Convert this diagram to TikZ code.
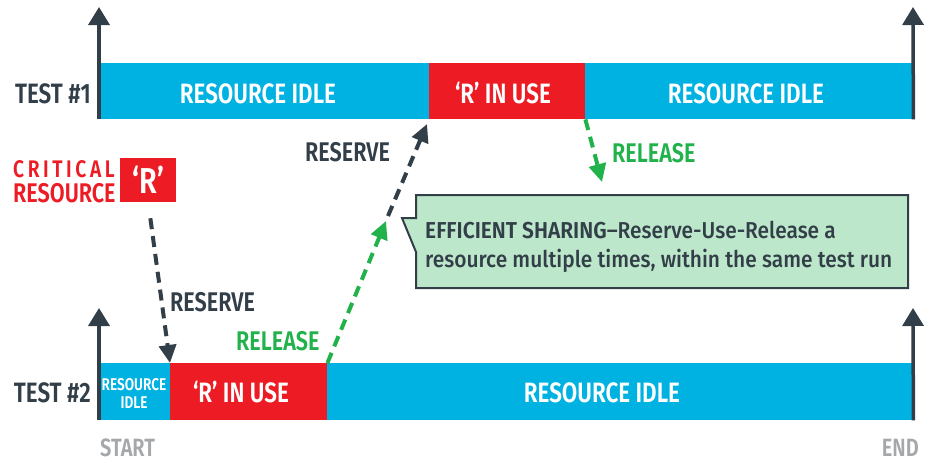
\documentclass[tikz,border=0pt]{standalone}
\usepackage{fontspec}
\setmainfont{Fira Sans}[FakeStretch=0.8, BoldFont={Fira Sans SemiBold}]
\newfontfamily\medf{Fira Sans Medium}[FakeStretch=0.91, BoldFont={Fira Sans SemiBold}]
\usetikzlibrary{arrows.meta}
\definecolor{barblue}{HTML}{00B2E2}
\definecolor{barred}{HTML}{ED1C24}
\definecolor{relgreen}{HTML}{22B24C}
\definecolor{darkc}{HTML}{323E48}
\definecolor{calfill}{HTML}{BDE7CA}
\definecolor{greyc}{HTML}{A5A8AB}
\begin{document}
\begin{tikzpicture}[x=1pt,y=-1pt,
  bar/.style={draw=none,inner sep=0pt,anchor=north west},
  bartxt/.style={text=white,font=\fontsize{28}{30}\selectfont\bfseries,inner sep=0pt,anchor=base},
  axisline/.style={draw=darkc,line width=3.5pt,-{Triangle[width=21pt,length=18pt]}},
  dkdash/.style={draw=darkc,line width=4pt,dash pattern=on 11pt off 7pt,-{Triangle[width=17pt,length=18pt]}},
  grdash/.style={draw=relgreen,line width=4pt,dash pattern=on 11pt off 7pt,-{Triangle[width=17pt,length=18pt]}},
  lbl/.style={inner sep=0pt,font=\fontsize{27}{29}\selectfont\bfseries},
  testlbl/.style={inner sep=0pt,anchor=base east,text=darkc,font=\fontsize{28}{30}\selectfont\bfseries},
  endlbl/.style={inner sep=0pt,text=greyc,font=\fontsize{25}{27}\selectfont\bfseries},
  caltxt/.style={inner sep=0pt,anchor=base west,text=darkc,font=\fontsize{23}{29}\selectfont\medf}
]
\useasboundingbox (0,0) rectangle (934,464);

% Test 1 bars
\node[bar,fill=barblue,minimum width=330pt,minimum height=56pt] (t1a) at (99,63) {};
\node[bar,fill=barred,minimum width=156pt,minimum height=56pt] (t1b) at (429,63) {};
\node[bar,fill=barblue,minimum width=328pt,minimum height=56pt] (t1c) at (585,63) {};
\node[bartxt] (t1atx) at (258,103) {RESOURCE IDLE};
\node[bartxt] (t1btx) at (503,103) {‘R’ IN USE};
\node[bartxt] (t1ctx) at (746,103) {RESOURCE IDLE};

% Test 2 bars
\node[bar,fill=barblue,minimum width=71pt,minimum height=57pt] (t2a) at (99,363) {};
\node[bar,fill=barred,minimum width=157pt,minimum height=57pt] (t2b) at (170,363) {};
\node[bar,fill=barblue,minimum width=586pt,minimum height=57pt] (t2c) at (327,363) {};
\node[inner sep=0pt,anchor=base,text=white,font=\fontsize{17}{18}\selectfont\bfseries] (t2atx1) at (134,390) {RESOURCE};
\node[inner sep=0pt,anchor=base,text=white,font=\fontsize{17}{18}\selectfont\bfseries] (t2atx2) at (134,408) {IDLE};
\node[bartxt] (t2btx) at (241,402) {‘R’ IN USE};
\node[bartxt] (t2ctx) at (602,402) {RESOURCE IDLE};

% axes
\coordinate (a1l) at (99,7);
\coordinate (a1r) at (913,7);
\coordinate (a2l) at (99,308);
\coordinate (a2r) at (913,308);
\draw[axisline] (t1a.south west) -- (a1l);
\draw[axisline] (t1c.south east) -- (a1r);
\draw[axisline] (t2a.south west) -- (a2l);
\draw[axisline] (t2c.south east) -- (a2r);

% test labels
\node[testlbl] (test1) at (91,103) {TEST \#1};
\node[testlbl] (test2) at (91,402) {TEST \#2};
\node[endlbl,anchor=base west] (start) at (100,456) {START};
\node[endlbl,anchor=base east] (end) at (919,456) {END};

% critical resource
\node[inner sep=0pt,anchor=base west,text=barred,font=\fontsize{24}{26}\selectfont\bfseries\addfontfeature{LetterSpace=15}] (crit) at (13,177) {CRITICAL};
\node[inner sep=0pt,anchor=base west,text=barred,font=\fontsize{27}{29}\selectfont\bfseries] (cres) at (13,202) {RESOURCE};
\node[fill=barred,inner sep=0pt,minimum width=56pt,minimum height=44pt,anchor=north west,text=white,font=\fontsize{36}{38}\selectfont\bfseries] (rbox) at (120,158) {‘R’};

% callout
\draw[draw=darkc,line width=2pt,fill=calfill] (416,195) -- (908,195) -- (908,288) -- (416,288) -- (416,252) -- (402,218) -- (416,218) -- cycle;
\node[caltxt] (cl1) at (425,238) {{\bfseries EFFICIENT SHARING}–Reserve-Use-Release a};
\node[caltxt] (cl2) at (425,267) {resource multiple times, within the same test run};

% connectors
\coordinate (gtip) at (386,221);
\coordinate (dstart) at (388,216);
\coordinate (rtip) at (602,182);
\draw[dkdash,shorten <=16pt] (rbox.south) -- (t2b.north west);
\draw[grdash] (t2b.north east) -- (gtip);
\draw[dkdash,shorten >=5pt] (dstart) -- (t1b.south west);
\draw[grdash] (t1b.south east) -- (rtip);

% connector labels
\node[lbl,anchor=base west,text=darkc] (res2) at (170,311) {RESERVE};
\node[lbl,anchor=base west,text=relgreen] (rel2) at (236,350) {RELEASE};
\node[lbl,anchor=base west,text=darkc] (res1) at (305,161) {RESERVE};
\node[lbl,anchor=base west,text=relgreen] (rel1) at (612,162) {RELEASE};
\end{tikzpicture}
\end{document}
